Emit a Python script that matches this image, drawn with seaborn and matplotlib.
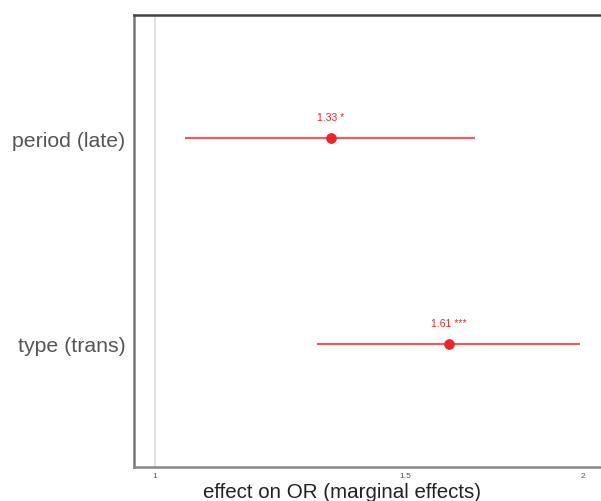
import matplotlib
matplotlib.use("Agg")
import matplotlib.pyplot as plt
import seaborn as sns
import pandas as pd
import numpy as np
from matplotlib.ticker import FixedLocator, FixedFormatter, NullLocator

terms = ["period (late)", "type (trans)"]
estimates = [1.33, 1.61]
ci_low = [1.05, 1.30]
ci_high = [1.68, 1.99]
labels = ["1.33 *", "1.61 ***"]
xticks = [1, 1.5, 2]
xticklabels = ["1", "1.5", "2"]

sns.set_theme(style="white")
plt.rcParams["font.family"] = ["Liberation Sans", "DejaVu Sans"]

df = pd.DataFrame({"term": terms, "estimate": estimates, "low": ci_low, "high": ci_high, "label": labels})

fig = plt.figure(figsize=(6.01, 5.02), dpi=100)
ax = fig.add_axes([134/601, 1 - 468/502, 1 - 134/601 + 0.01, (468 - 16)/502])
ax.set_xscale("log")

red = "#e8262b"
ax.axvline(1, color="#dddddd", lw=1.2, zorder=0)
ypos = np.arange(len(df))
ax.hlines(ypos, df["low"], df["high"], color=red, alpha=0.75, lw=1.6, zorder=2)
sns.scatterplot(data=df, x="estimate", y="term", ax=ax, color=red, s=50, edgecolor=red, zorder=3, legend=False)
for i, row in df.iterrows():
    ax.text(row["estimate"], i - 0.103, row["label"], color=red, fontsize=7.5, ha="center", va="center")

ax.set_xlim(0.967, 2.079)
ax.set_ylim(1.6, -0.6)
ax.xaxis.set_major_locator(FixedLocator(xticks))
ax.xaxis.set_major_formatter(FixedFormatter(xticklabels))
ax.xaxis.set_minor_locator(NullLocator())
ax.set_yticks(ypos)
ax.set_yticklabels(terms)
ax.tick_params(axis="x", labelsize=6, colors="#777777", length=2, width=0.8, labelcolor="#555555", pad=1.5)
ax.tick_params(axis="y", labelsize=15.3, colors="#777777", length=3, width=0.8, labelcolor="#555555", pad=3)
ax.set_xlabel("effect on OR (marginal effects)", fontsize=14.8, color="#222222")
ax.xaxis.set_label_coords((342 - 134) / (601 - 134 + 6), -0.033, transform=ax.transAxes)
ax.xaxis.label.set_va("top")
ax.set_ylabel("")

for side in ["top", "left", "bottom"]:
    ax.spines[side].set_visible(True)
    ax.spines[side].set_linewidth(1.8)
ax.spines["top"].set_color("#444444")
ax.spines["left"].set_color("#777777")
ax.spines["bottom"].set_color("#888888")
ax.spines["right"].set_visible(False)

fig.savefig("out.png", dpi=100)
